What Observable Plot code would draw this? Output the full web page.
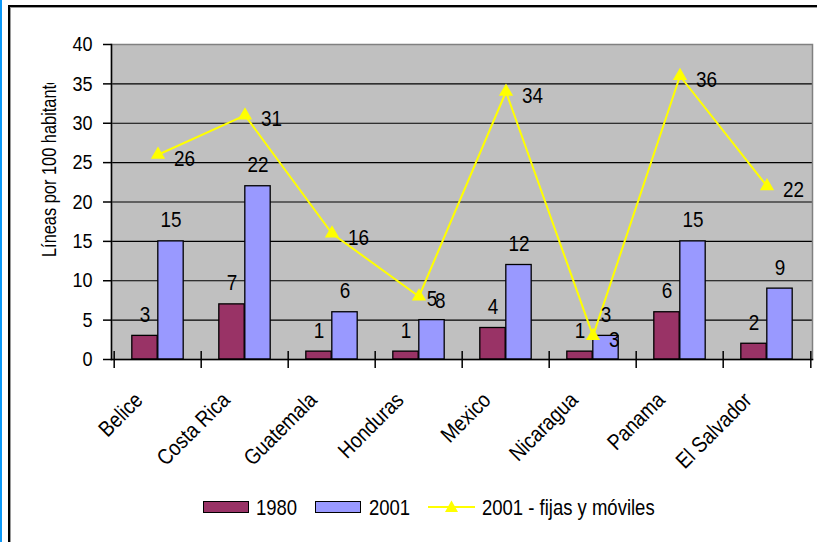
<!DOCTYPE html>
<html><head><meta charset="utf-8">
<script src="https://cdn.jsdelivr.net/npm/d3@7"></script>
<script src="https://cdn.jsdelivr.net/npm/@observablehq/plot@0.6"></script>
<style>
body{margin:0;background:#fff;}
#wrap{position:relative;width:817px;height:542px;overflow:hidden;font-family:"Liberation Sans",Arial,sans-serif;color:#000;background:#fff;}
#strip{position:absolute;left:0;top:0;width:2px;height:542px;background:#0a98f8;}
#frame{position:absolute;left:8px;top:5px;width:830px;height:560px;border-left:2px solid #000;border-top:2px solid #000;box-shadow:inset 1px 1px 0 #9a9a9a;}
#chart{position:absolute;left:0;top:0;}
#ylab{position:absolute;left:36px;top:83px;width:28px;height:174px;overflow:hidden;}
.lg{position:absolute;top:494px;line-height:28px;font-size:21.5px;white-space:nowrap;transform:scaleX(0.86);transform-origin:0 50%;}
.sw{position:absolute;top:501px;width:44px;height:10px;border:1.5px solid #000;}
</style></head><body>
<div id="wrap">
  <div id="strip"></div>
  <div id="frame"></div>
  <div id="chart"></div>
  <div id="ylab"><svg width="28" height="174"><text id="ylabtext" transform="translate(20,174) rotate(-90) scale(0.78,1)" font-size="21" fill="#000" font-family="Liberation Sans, Arial, sans-serif"></text></svg></div>
  <div id="legend"></div>
</div>
<script>
const countries = ["Belice","Costa Rica","Guatemala","Honduras","Mexico","Nicaragua","Panama","El Salvador"];
const lines1980 = [3,7,1,1,4,1,6,2];
const lines2001 = [15,22,6,5,12,3,15,9];
const fijasMoviles2001 = [26,31,16,8,34,3,36,22];
const yTicks = [0,5,10,15,20,25,30,35,40];
const yTitle = "Líneas por 100 habitantes";
const seriesNames = ["1980","2001","2001 - fijas y móviles"];
const colors = {c1980:"#993366", c2001:"#9999FF", line:"#FFFF00"};

const rows = countries.map((c,i)=>({country:c, v1980:lines1980[i], v2001:lines2001[i], fm:fijasMoviles2001[i]}));

const W = 817, H = 542, mL = 111, mR = 5, mT = 44, mB = 183;
const bw = (W - mL - mR) / countries.length;
const plotH = H - mT - mB;
const barW = 26;
const padOut = (bw - 2*barW)/2;
const fs = 22;

const chart = Plot.plot({
  width: W, height: H,
  marginLeft: mL, marginRight: mR, marginTop: mT, marginBottom: mB,
  style: {fontFamily: '"Liberation Sans",Arial,sans-serif', background: "transparent", color: "#000", overflow: "visible"},
  x: {type: "band", domain: countries, padding: 0, axis: null},
  y: {domain: [0, 40], axis: null},
  marks: [
    Plot.frame({fill: "#C0C0C0"}),
    Plot.ruleY(yTicks.filter(v => v > 0 && v < 40), {stroke: "#000", strokeWidth: 1.2}),
    Plot.frame({stroke: "#808080", strokeWidth: 1.5}),
    Plot.barY(rows, {x: "country", y: "v1980", fill: colors.c1980, stroke: "#000", strokeWidth: 1.3, insetLeft: padOut, insetRight: padOut + barW}),
    Plot.barY(rows, {x: "country", y: "v2001", fill: colors.c2001, stroke: "#000", strokeWidth: 1.3, insetLeft: padOut + barW, insetRight: padOut}),
    Plot.frame({anchor: "left", stroke: "#000", strokeWidth: 1.5}),
    Plot.frame({anchor: "bottom", stroke: "#000", strokeWidth: 1.5}),
    Plot.axisY({ticks: yTicks, tickSize: 8, tickPadding: 11, fontSize: 21, stroke: "#000", strokeWidth: 1.5}),
    Plot.tickX(countries, {x: d => d, dx: -bw/2, stroke: "#000", strokeWidth: 1.5, insetTop: plotH - 8, insetBottom: -9}),
    Plot.tickX([countries[countries.length-1]], {x: d => d, dx: bw/2, stroke: "#000", strokeWidth: 1.5, insetTop: plotH - 8, insetBottom: -9}),
    Plot.text(countries, {x: d => d, frameAnchor: "bottom", rotate: -45, textAnchor: "end", dx: -14, dy: 42, fontSize: 22, fill: "#000", style: "letter-spacing:-0.9px"}),
    Plot.line(rows, {x: "country", y: "fm", stroke: colors.line, strokeWidth: 2}),
    Plot.dot(rows, {x: "country", y: "fm", symbol: "triangle", r: 5.3, fill: colors.line, stroke: null}),
    Plot.text(rows, {x: "country", y: "v1980", text: d => String(d.v1980), dx: -barW/2, dy: -21, fontSize: fs, fill: "#000"}),
    Plot.text(rows, {x: "country", y: "v2001", text: d => String(d.v2001), dx: barW/2, dy: -21, fontSize: fs, fill: "#000"}),
    Plot.text(rows, {x: "country", y: "fm", text: d => String(d.fm), textAnchor: "start", dx: 16, dy: 4, fontSize: fs, fill: "#000"})
  ]
});
document.getElementById("chart").appendChild(chart);
document.getElementById("ylabtext").textContent = yTitle;

// condense text horizontally around its anchor (narrow, tall Excel look)
function condense(el, f) {
  const b = el.getBBox();
  const anchor = getComputedStyle(el).textAnchor;
  const ax = anchor === "end" ? b.x + b.width : anchor === "middle" ? b.x + b.width / 2 : b.x;
  const t = el.getAttribute("transform") || "";
  el.setAttribute("transform", `${t} translate(${ax},0) scale(${f},1) translate(${-ax},0)`);
}
chart.querySelectorAll('g[aria-label="text"] text').forEach(el => condense(el, 0.86));
chart.querySelectorAll('g[aria-label="y-axis tick label"] text').forEach(el => condense(el, 0.86));

const lg = document.getElementById("legend");
lg.innerHTML = `
  <div class="sw" style="left:203px;background:${colors.c1980}"></div>
  <span class="lg" style="left:256px">${seriesNames[0]}</span>
  <div class="sw" style="left:315px;background:${colors.c2001}"></div>
  <span class="lg" style="left:369px">${seriesNames[1]}</span>
  <svg style="position:absolute;left:428px;top:498px" width="48" height="20">
    <line x1="0" y1="9" x2="47" y2="9" stroke="${colors.line}" stroke-width="2"/>
    <path d="M23.5,2.5 L30,14 L17,14 Z" fill="${colors.line}"/>
  </svg>
  <span class="lg" style="left:482px">${seriesNames[2]}</span>`;
</script>
</body></html>
